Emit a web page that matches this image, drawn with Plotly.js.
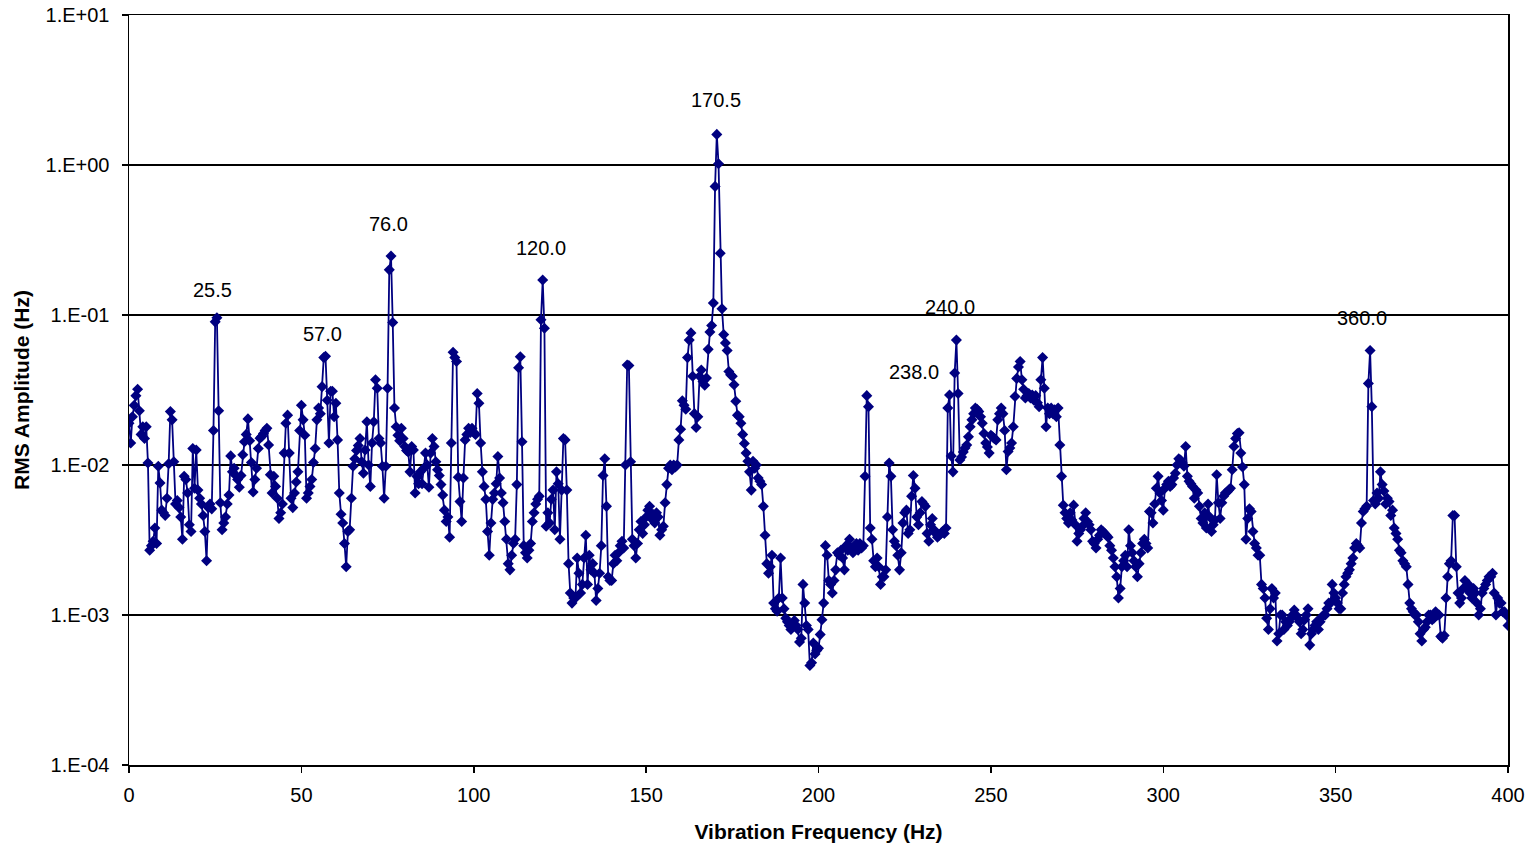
<!DOCTYPE html>
<html>
<head>
<meta charset="utf-8">
<script src="https://cdn.plot.ly/plotly-3.0.1.min.js"></script>
<style>
  html, body { margin:0; padding:0; background:#fff; }
  #chart { width:1533px; height:849px; }
</style>
</head>
<body>
<div id="chart"></div>
<script>
// Spectrum bins: 0 Hz to 400 Hz, one value every 0.5 Hz
const freqStartHz = 0;
const freqStepHz = 0.5;

// RMS amplitude, 10 values (5 Hz) per row
const rmsAmplitude = [
  0.019,0.014,0.021,0.025,0.029,0.032,0.023,0.016,0.018,0.015,
  0.018,0.0103,0.0027,0.0029,0.0031,0.0038,0.003,0.0098,0.0076,0.005,
  0.0048,0.0046,0.006,0.0102,0.0227,0.02,0.0105,0.0055,0.0058,0.0052,
  0.0045,0.0032,0.0084,0.008,0.0065,0.004,0.0036,0.0129,0.007,0.0126,
  0.0068,0.006,0.0055,0.0046,0.0036,0.0023,0.0052,0.0055,0.0051,0.017,
  0.09,0.096,0.023,0.0056,0.0037,0.0041,0.0045,0.0055,0.0063,0.0115,
  0.009,0.0095,0.0085,0.008,0.0071,0.0085,0.0117,0.0143,0.016,0.0203,
  0.0145,0.0104,0.0066,0.008,0.0095,0.0129,0.0151,0.0155,0.0162,0.017,
  0.0176,0.0136,0.0086,0.0065,0.0084,0.0072,0.006,0.0044,0.0048,0.0055,
  0.012,0.019,0.0215,0.012,0.006,0.0052,0.0065,0.0077,0.009,0.017,
  0.025,0.02,0.0158,0.006,0.0065,0.0072,0.008,0.0104,0.0129,0.02,
  0.024,0.022,0.0333,0.052,0.053,0.027,0.014,0.031,0.031,0.021,
  0.0258,0.0147,0.0065,0.0047,0.0041,0.003,0.0021,0.0036,0.0037,0.006,
  0.0098,0.011,0.0125,0.0135,0.015,0.0105,0.0088,0.0126,0.0194,0.01,
  0.0072,0.014,0.0194,0.037,0.0325,0.015,0.014,0.0098,0.006,0.0098,
  0.0325,0.2,0.247,0.089,0.024,0.018,0.0158,0.0145,0.0176,0.015,
  0.0133,0.0125,0.0122,0.009,0.0133,0.0126,0.0065,0.0084,0.0075,0.009,
  0.0075,0.0095,0.012,0.01,0.0071,0.012,0.015,0.0133,0.0105,0.0093,
  0.0085,0.0074,0.0063,0.005,0.0042,0.0045,0.0033,0.014,0.0565,0.052,
  0.049,0.0083,0.0057,0.0042,0.0082,0.0147,0.016,0.0176,0.0165,0.0176,
  0.0165,0.016,0.03,0.0258,0.014,0.009,0.0072,0.0059,0.0036,0.0025,
  0.0041,0.0059,0.0065,0.0075,0.0114,0.0082,0.0065,0.0056,0.0042,0.0032,
  0.0022,0.002,0.0025,0.003,0.0032,0.0074,0.0445,0.0527,0.0143,0.0029,
  0.0026,0.0024,0.0027,0.003,0.0042,0.0048,0.0055,0.0059,0.0062,0.093,
  0.171,0.0815,0.0039,0.0048,0.0041,0.0059,0.0068,0.0037,0.009,0.0075,
  0.0032,0.0068,0.015,0.0147,0.0068,0.0022,0.0014,0.0012,0.0013,0.0013,
  0.0024,0.0019,0.0014,0.0016,0.0024,0.0034,0.0016,0.0025,0.002,0.0022,
  0.0019,0.00125,0.0015,0.0019,0.0029,0.0085,0.011,0.0053,0.0018,0.0017,
  0.0017,0.0022,0.0025,0.0023,0.0026,0.0029,0.0031,0.0028,0.01,0.0464,
  0.046,0.0105,0.0032,0.0029,0.0024,0.003,0.0037,0.0042,0.0035,0.004,
  0.0045,0.005,0.0053,0.0044,0.0047,0.0041,0.0048,0.0045,0.0034,0.0037,
  0.0039,0.0056,0.0074,0.0095,0.01,0.0093,0.01,0.0097,0.01,0.0147,
  0.0173,0.0268,0.025,0.0235,0.052,0.068,0.076,0.039,0.022,0.0178,
  0.021,0.039,0.043,0.036,0.034,0.038,0.059,0.077,0.085,0.12,
  0.72,1.6,1.02,0.258,0.11,0.074,0.065,0.058,0.042,0.04,
  0.039,0.0343,0.0266,0.0215,0.021,0.019,0.016,0.0139,0.012,0.0106,
  0.009,0.0068,0.0106,0.0095,0.01,0.0082,0.0078,0.0074,0.0053,0.0034,
  0.0022,0.0019,0.0021,0.0025,0.0012,0.0011,0.00106,0.0013,0.0024,0.0013,
  0.0011,0.00095,0.0009,0.00085,0.0008,0.00087,0.00092,0.00085,0.0008,0.00066,
  0.0007,0.0016,0.0012,0.00085,0.0008,0.00046,0.00048,0.00065,0.00055,0.00058,
  0.0006,0.00074,0.00093,0.0012,0.0029,0.0025,0.0017,0.0016,0.0014,0.0017,
  0.002,0.0026,0.0025,0.0027,0.0024,0.002,0.0029,0.0027,0.0032,0.0028,
  0.0026,0.0028,0.003,0.0027,0.003,0.0028,0.0029,0.0084,0.029,0.0245,
  0.0038,0.0032,0.0023,0.0021,0.0024,0.0021,0.0016,0.0018,0.0018,0.002,
  0.0045,0.0103,0.0084,0.0037,0.0031,0.0029,0.0025,0.002,0.0026,0.0041,
  0.0048,0.005,0.0035,0.0037,0.0062,0.0085,0.007,0.0045,0.004,0.0048,
  0.0057,0.0055,0.0053,0.0035,0.0031,0.004,0.0044,0.0037,0.0035,0.0033,
  0.0034,0.0035,0.0036,0.0035,0.0038,0.024,0.0293,0.0115,0.009,0.041,
  0.068,0.03,0.0108,0.0113,0.0122,0.013,0.0136,0.0154,0.018,0.02,
  0.022,0.024,0.0235,0.0227,0.021,0.019,0.0162,0.014,0.0132,0.012,
  0.0158,0.0154,0.015,0.0147,0.02,0.022,0.024,0.022,0.017,0.0093,
  0.0123,0.013,0.014,0.018,0.0286,0.0378,0.045,0.049,0.037,0.032,
  0.028,0.029,0.03,0.028,0.0293,0.027,0.029,0.026,0.0245,0.037,
  0.052,0.0325,0.018,0.024,0.022,0.024,0.022,0.0233,0.021,0.024,
  0.0136,0.0084,0.0054,0.0048,0.0044,0.0041,0.0048,0.0043,0.0054,0.004,
  0.0031,0.0035,0.0037,0.0039,0.0044,0.0048,0.0042,0.004,0.0037,0.0031,
  0.003,0.0028,0.0032,0.0034,0.0037,0.0036,0.0035,0.0034,0.0033,0.0029,
  0.0027,0.0024,0.0021,0.0018,0.0013,0.0015,0.0021,0.0023,0.0025,0.0021,
  0.0037,0.0029,0.0026,0.0023,0.0021,0.0018,0.0022,0.0026,0.003,0.0032,
  0.003,0.0028,0.0049,0.0048,0.0041,0.0055,0.007,0.0084,0.0065,0.0058,
  0.005,0.007,0.0074,0.0078,0.0072,0.0074,0.0082,0.0088,0.01,0.011,
  0.0108,0.0103,0.0098,0.0133,0.0084,0.0078,0.0075,0.0072,0.006,0.0068,
  0.0065,0.0053,0.0044,0.0041,0.0048,0.0038,0.0055,0.0045,0.0036,0.004,
  0.0043,0.0086,0.0056,0.0044,0.0056,0.0062,0.0065,0.0066,0.0068,0.007,
  0.0093,0.0133,0.015,0.0162,0.0164,0.012,0.0097,0.0074,0.0032,0.0044,
  0.0051,0.0049,0.0036,0.003,0.0028,0.0025,0.0025,0.0016,0.0015,0.0013,
  0.00095,0.0008,0.0011,0.0015,0.0013,0.0014,0.00067,0.00075,0.001,0.001,
  0.0008,0.0009,0.00085,0.0009,0.00095,0.001,0.00108,0.001,0.00095,0.0009,
  0.00075,0.0008,0.00093,0.001,0.0011,0.00063,0.00075,0.0008,0.00085,0.0009,
  0.0008,0.0009,0.00097,0.001,0.001,0.0011,0.0012,0.0012,0.0016,0.0014,
  0.0013,0.0012,0.0011,0.0011,0.0014,0.0016,0.0018,0.0019,0.002,0.0022,
  0.0024,0.0028,0.003,0.0029,0.0028,0.0041,0.0049,0.0051,0.0053,0.035,
  0.058,0.0245,0.0058,0.0055,0.0065,0.006,0.009,0.0074,0.0067,0.0055,
  0.006,0.0057,0.0046,0.005,0.0038,0.0035,0.0032,0.0027,0.0026,0.0023,
  0.0022,0.0021,0.0016,0.0012,0.0011,0.00105,0.001,0.001,0.0009,0.00075,
  0.00067,0.0008,0.00083,0.0009,0.001,0.001,0.00093,0.00095,0.00105,0.001,
  0.001,0.00072,0.0007,0.00073,0.0013,0.0018,0.0022,0.0023,0.0046,0.0046,
  0.0021,0.0014,0.0012,0.0013,0.0015,0.0017,0.0015,0.0016,0.0014,0.0013,
  0.0015,0.0014,0.0012,0.001,0.0011,0.0014,0.0015,0.0016,0.0017,0.0018,
  0.0018,0.0019,0.0014,0.001,0.0013,0.0012,0.0012,0.00105,0.00105,0.001,
  0.00085
];

// Labelled peaks (Hz)
const peakLabels = ['25.5','57.0','76.0','120.0','170.5','240.0','238.0','360.0'];

// Axis ticks
const yTickVals = [1e-4, 1e-3, 1e-2, 1e-1, 1, 10];
const yTickText = ['1.E-04','1.E-03','1.E-02','1.E-01','1.E+00','1.E+01'];
const xTickVals = [0, 50, 100, 150, 200, 250, 300, 350, 400];

const freqHz = rmsAmplitude.map((_, i) => freqStartHz + i * freqStepHz);

// label anchor positions (x in Hz, y in log10 units)
const labelPos = [
  [24.1, -0.833], [56.0, -1.127], [75.4, -0.393], [119.5, -0.553],
  [170.3, 0.433], [238.1, -0.947], [227.7, -1.38], [357.6, -1.02]
];

const FONT = 'Liberation Sans, Arial, Helvetica, sans-serif';

const trace = {
  type: 'scatter',
  mode: 'lines+markers',
  x: freqHz,
  y: rmsAmplitude,
  line: { color: '#000080', width: 1.8 },
  marker: { symbol: 'diamond', size: 8.5, color: '#000080' },
  hoverinfo: 'x+y'
};

const layout = {
  width: 1533, height: 849,
  margin: { l: 129, r: 25, t: 15, b: 84, pad: 0 },
  paper_bgcolor: '#ffffff', plot_bgcolor: '#ffffff',
  showlegend: false,
  font: { family: FONT, size: 20, color: '#000' },
  xaxis: {
    range: [0, 400], tickvals: xTickVals, ticktext: xTickVals.map(String),
    ticks: 'outside', ticklen: 6, tickwidth: 1.5, tickcolor: '#000',
    showline: true, linecolor: '#000', linewidth: 1.5, mirror: true,
    showgrid: false, zeroline: false,
    tickfont: { family: FONT, size: 20, color: '#000' },
    ticklabelstandoff: 5,
    title: { text: '<b>Vibration Frequency (Hz)</b>', font: { family: FONT, size: 21, color: '#000' }, standoff: 20 }
  },
  yaxis: {
    type: 'log', range: [-4, 1],
    tickvals: yTickVals, ticktext: yTickText,
    ticks: 'outside', ticklen: 6, tickwidth: 1.5, tickcolor: '#000',
    showline: true, linecolor: '#000', linewidth: 1.5, mirror: true,
    showgrid: true, gridcolor: '#000', gridwidth: 2, zeroline: false,
    tickfont: { family: FONT, size: 20, color: '#000' },
    ticklabelstandoff: 8,
    title: { text: '<b>RMS Amplitude (Hz)</b>', font: { family: FONT, size: 21, color: '#000' }, standoff: 10 }
  },
  annotations: peakLabels.map((t, i) => ({
    text: t, x: labelPos[i][0], y: labelPos[i][1], xref: 'x', yref: 'y',
    showarrow: false, xanchor: 'center', yanchor: 'middle',
    font: { family: FONT, size: 20, color: '#000' }
  }))
};

Plotly.newPlot('chart', [trace], layout, { displayModeBar: false, staticPlot: true });
</script>
</body>
</html>
